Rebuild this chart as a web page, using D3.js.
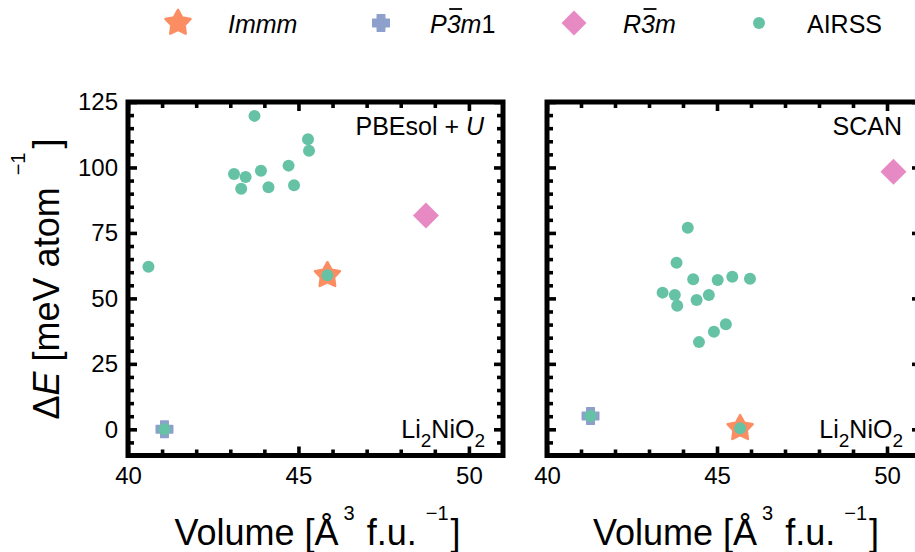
<!DOCTYPE html>
<html>
<head>
<meta charset="utf-8">
<script src="https://cdn.jsdelivr.net/npm/d3@7"></script>
<style>
  body { margin: 0; background: #fff; }
  svg { display: block; font-family: "Liberation Sans", Arial, Helvetica, sans-serif; }
</style>
</head>
<body>
<svg id="chart" width="915" height="552"></svg>
<script>
// ---- data -------------------------------------------------------------
const xTickValues = [40, 45, 50];
const yTickValues = [0, 25, 50, 75, 100, 125];

// PBEsol + U
const pbeAirssVol = [43.71, 43.11, 43.45, 43.32, 43.90, 44.12, 44.71, 44.87, 40.60, 45.28, 45.31, 45.85, 41.07];
const pbeAirssE   = [119.7, 97.5, 96.4, 91.9, 98.7, 92.4, 100.7, 93.2, 62.1, 110.8, 106.4, 58.8, 0.0];
const pbeImmm = [45.85, 58.8];
const pbeP3m1 = [41.07, 0.0];
const pbeR3m  = [48.74, 81.7];

// SCAN
const scanAirssVol = [44.14, 43.81, 44.30, 45.02, 45.45, 45.97, 43.40, 43.76, 43.83, 44.40, 44.76, 45.26, 44.91, 44.47, 41.28, 45.68];
const scanAirssE   = [77.0, 63.6, 57.3, 57.0, 58.3, 57.5, 52.2, 51.3, 47.2, 49.4, 51.3, 40.1, 37.3, 33.3, 5.1, 0.4];
const scanImmm = [45.68, 0.4];
const scanP3m1 = [41.28, 5.1];
const scanR3m  = [50.19, 98.4];

// ---- styling ----------------------------------------------------------
const colImmm = "#fc8d62", colP3m1 = "#8da0cb", colR3m = "#e78ac3", colAirss = "#66c2a5";
const svg = d3.select("#chart");

const yScale = d3.scaleLinear().domain([-10, 125]).range([455.5, 102]);

// marker path generators (centred on 0,0)
function starPath(R, r) {
  const pts = [];
  for (let i = 0; i < 10; i++) {
    const a = -Math.PI / 2 + i * Math.PI / 5;
    const rad = i % 2 === 0 ? R : r;
    pts.push([rad * Math.cos(a), rad * Math.sin(a)]);
  }
  return "M" + pts.map(p => p.join(",")).join("L") + "Z";
}
function plusPath(a, b) {
  return `M${-b},${-a}H${b}V${-b}H${a}V${b}H${b}V${a}H${-b}V${b}H${-a}V${-b}H${-b}Z`;
}
function diamondPath(d) {
  return `M0,${-d}L${d},0L0,${d}L${-d},0Z`;
}

function drawStar(g, cx, cy) {
  g.append("path").attr("d", starPath(13.2, 7.0))
    .attr("transform", `translate(${cx},${cy})`)
    .attr("fill", colImmm).attr("stroke", colImmm)
    .attr("stroke-width", 2.4).attr("stroke-linejoin", "round");
}
function drawPlus(g, cx, cy) {
  g.append("path").attr("d", plusPath(8.3, 3.8))
    .attr("transform", `translate(${cx},${cy})`)
    .attr("fill", colP3m1).attr("stroke", colP3m1)
    .attr("stroke-width", 1.4).attr("stroke-linejoin", "round");
}
function drawDiamond(g, cx, cy, d) {
  g.append("path").attr("d", diamondPath(d))
    .attr("transform", `translate(${cx},${cy})`)
    .attr("fill", colR3m);
}

// ---- panels -----------------------------------------------------------
const panels = [
  { x0: 128, x1: 503, title: "pbe", airssVol: pbeAirssVol, airssE: pbeAirssE,
    immm: pbeImmm, p3m1: pbeP3m1, r3m: pbeR3m, yLabels: true },
  { x0: 547, x1: 921, title: "scan", airssVol: scanAirssVol, airssE: scanAirssE,
    immm: scanImmm, p3m1: scanP3m1, r3m: scanR3m, yLabels: false }
];

const xMinor = d3.range(41, 51).filter(v => v % 5 !== 0);
const yMinor = d3.range(-5, 125, 5).filter(v => v % 25 !== 0);

function styleAxis(sel, fontSize) {
  sel.select(".domain").remove();
  sel.selectAll(".tick line").attr("stroke", "#000").attr("stroke-width", 3.6);
  sel.selectAll(".tick text").attr("fill", "#000")
    .attr("font-size", fontSize).attr("font-family", "Liberation Sans, Arial, sans-serif");
  sel.attr("font-family", null).attr("font-size", null);
}

panels.forEach(p => {
  const x = d3.scaleLinear().domain([40, 51]).range([p.x0, p.x1]);
  const g = svg.append("g");
  const yTop = yScale(125), yBot = yScale(-10);

  // markers
  const mk = g.append("g");
  drawStar(mk, x(p.immm[0]), yScale(p.immm[1]));
  drawPlus(mk, x(p.p3m1[0]), yScale(p.p3m1[1]));
  drawDiamond(mk, x(p.r3m[0]), yScale(p.r3m[1]), 13);
  mk.selectAll("circle.airss")
    .data(d3.zip(p.airssVol, p.airssE))
    .join("circle").attr("class", "airss")
    .attr("cx", d => x(d[0])).attr("cy", d => yScale(d[1]))
    .attr("r", 6).attr("fill", colAirss);

  // bottom axis (major with labels, minor without)
  g.append("g").attr("transform", `translate(0,${yBot})`)
    .call(d3.axisBottom(x).tickValues(xTickValues).tickSize(-9).tickPadding(11).tickFormat(d3.format("d")))
    .call(s => styleAxis(s, 24));
  g.append("g").attr("transform", `translate(0,${yBot})`)
    .call(d3.axisBottom(x).tickValues(xMinor).tickSize(-6).tickFormat(""))
    .call(s => styleAxis(s, 24));
  // top axis
  g.append("g").attr("transform", `translate(0,${yTop})`)
    .call(d3.axisTop(x).tickValues(xTickValues).tickSize(-9).tickFormat(""))
    .call(s => styleAxis(s, 24));
  g.append("g").attr("transform", `translate(0,${yTop})`)
    .call(d3.axisTop(x).tickValues(xMinor).tickSize(-6).tickFormat(""))
    .call(s => styleAxis(s, 24));
  // left axis
  g.append("g").attr("transform", `translate(${p.x0},0)`)
    .call(d3.axisLeft(yScale).tickValues(yTickValues).tickSize(-9).tickPadding(10)
      .tickFormat(p.yLabels ? d3.format("d") : ""))
    .call(s => styleAxis(s, 24));
  g.append("g").attr("transform", `translate(${p.x0},0)`)
    .call(d3.axisLeft(yScale).tickValues(yMinor).tickSize(-6).tickFormat(""))
    .call(s => styleAxis(s, 24));
  // right axis
  g.append("g").attr("transform", `translate(${p.x1},0)`)
    .call(d3.axisRight(yScale).tickValues(yTickValues).tickSize(-9).tickFormat(""))
    .call(s => styleAxis(s, 24));
  g.append("g").attr("transform", `translate(${p.x1},0)`)
    .call(d3.axisRight(yScale).tickValues(yMinor).tickSize(-6).tickFormat(""))
    .call(s => styleAxis(s, 24));

  // frame
  g.append("rect").attr("x", p.x0).attr("y", yTop)
    .attr("width", p.x1 - p.x0).attr("height", yBot - yTop)
    .attr("fill", "none").attr("stroke", "#000").attr("stroke-width", 5);

  // method label (top right)
  const t = g.append("text").attr("x", p.x1 - 19).attr("y", 135)
    .attr("text-anchor", "end").attr("font-size", 25).attr("fill", "#000");
  if (p.title === "pbe") {
    t.append("tspan").text("PBEsol + ");
    t.append("tspan").attr("font-style", "italic").text("U");
  } else {
    t.text("SCAN");
  }

  // compound label (bottom right)
  const c = g.append("text").attr("x", p.x1 - 18).attr("y", 438)
    .attr("text-anchor", "end").attr("font-size", 25).attr("fill", "#000");
  c.append("tspan").text("Li");
  c.append("tspan").attr("font-size", 19).attr("dy", 9).text("2");
  c.append("tspan").attr("dy", -9).text("NiO");
  c.append("tspan").attr("font-size", 19).attr("dy", 9).text("2");

  // x axis title
  const xt = g.append("text").attr("x", (p.x0 + p.x1) / 2 + 2).attr("y", 545)
    .attr("text-anchor", "middle").attr("font-size", 36).attr("fill", "#000");
  xt.append("tspan").text("Volume [Å");
  xt.append("tspan").attr("font-size", 20).attr("dx", 5).attr("dy", -25).text("3");
  xt.append("tspan").attr("dx", 2).attr("dy", 25).text(" f.u.");
  xt.append("tspan").attr("font-size", 20).attr("dx", 9).attr("dy", -25).text("\u22121");
  xt.append("tspan").attr("dx", 2).attr("dy", 25).text("]");
});

// y axis title (left panel only)
const yt = svg.append("text")
  .attr("transform", "translate(59,279) rotate(-90)")
  .attr("text-anchor", "middle").attr("font-size", 36).attr("fill", "#000");
yt.append("tspan").text("\u0394");
yt.append("tspan").attr("font-style", "italic").text("E");
yt.append("tspan").text(" [meV atom");
yt.append("tspan").attr("font-size", 20).attr("dx", 12).attr("dy", -34).text("\u22121");
yt.append("tspan").attr("dx", 4).attr("dy", 34).text("]");

// ---- legend -----------------------------------------------------------
const lg = svg.append("g");
const legY = 23, legBase = 33;
drawStar(lg, 178, legY);
drawPlus(lg, 381, legY);
drawDiamond(lg, 574, legY, 12.5);
lg.append("circle").attr("cx", 759).attr("cy", legY).attr("r", 6).attr("fill", colAirss);

lg.append("text").attr("x", 228).attr("y", legBase).attr("font-size", 25)
  .attr("font-style", "italic").text("Immm");

function spaceGroupLabel(x0, lead, tail) {
  const t = lg.append("text").attr("x", x0).attr("y", legBase).attr("font-size", 25);
  t.append("tspan").attr("font-style", "italic").text(lead);
  t.append("tspan").attr("font-style", "italic").text("3");
  t.append("tspan").attr("font-style", "italic").text("m");
  if (tail) t.append("tspan").text(tail);
  // bar over the rotoinversion digit
  const ext = t.node().getExtentOfChar(lead.length);
  lg.append("line")
    .attr("x1", ext.x + 2.5).attr("x2", ext.x + ext.width + 1.5)
    .attr("y1", legBase - 24).attr("y2", legBase - 24)
    .attr("stroke", "#000").attr("stroke-width", 1.8);
}
spaceGroupLabel(430, "P", "1");
spaceGroupLabel(623, "R", null);

lg.append("text").attr("x", 807).attr("y", legBase).attr("font-size", 25).text("AIRSS");
</script>
</body>
</html>
